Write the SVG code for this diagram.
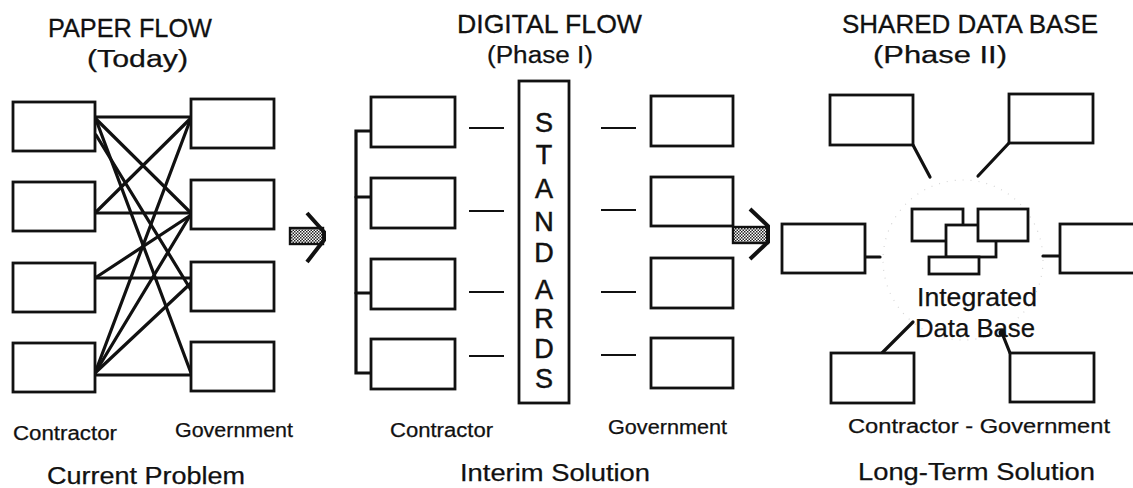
<svg xmlns="http://www.w3.org/2000/svg" width="1133" height="488" viewBox="0 0 1133 488">
<style>
  .box { fill: #fff; stroke: #111; stroke-width: 2.8; }
  .ln { stroke: #111; stroke-width: 3.2; fill: none; stroke-linecap: round; }
  .dash { stroke: #111; stroke-width: 2.2; fill: none; }
  .t { font-family: "Liberation Sans", Arial, sans-serif; fill: #111; stroke: #111; stroke-width: 0.25; }
  .title { font-size: 26px; stroke-width: 0.3; }
  .sub { font-size: 23px; }
  .lab { font-size: 20px; }
  .foot { font-size: 23px; }
  .std { font-size: 27px; text-anchor: middle; stroke-width: 0.5; }
  .chev { stroke: #111; stroke-width: 4; fill: none; stroke-linejoin: miter; }
</style>
<defs>
  <pattern id="hatch" width="3" height="3" patternUnits="userSpaceOnUse">
    <rect width="3" height="3" fill="#fff"/>
    <rect width="1.5" height="1.5" fill="#222"/>
    <rect x="1.5" y="1.5" width="1.5" height="1.5" fill="#222"/>
  </pattern>
</defs>
<rect width="1133" height="488" fill="#fff"/>

<!-- Titles and labels -->
<g id="texts">
  <text class="t title" x="48" y="37" textLength="164" lengthAdjust="spacingAndGlyphs">PAPER FLOW</text>
  <text class="t sub" x="87" y="67" textLength="101" lengthAdjust="spacingAndGlyphs">(Today)</text>
  <text class="t lab" x="13" y="440" textLength="104" lengthAdjust="spacingAndGlyphs">Contractor</text>
  <text class="t lab" x="175" y="437" textLength="118" lengthAdjust="spacingAndGlyphs">Government</text>
  <text class="t foot" x="47" y="484" textLength="198" lengthAdjust="spacingAndGlyphs">Current Problem</text>

  <text class="t title" x="457" y="33" textLength="185" lengthAdjust="spacingAndGlyphs">DIGITAL FLOW</text>
  <text class="t sub" x="487" y="63" textLength="106" lengthAdjust="spacingAndGlyphs">(Phase I)</text>
  <text class="t lab" x="390" y="437" textLength="103" lengthAdjust="spacingAndGlyphs">Contractor</text>
  <text class="t lab" x="608" y="434" textLength="119" lengthAdjust="spacingAndGlyphs">Government</text>
  <text class="t foot" x="460" y="481" textLength="190" lengthAdjust="spacingAndGlyphs">Interim Solution</text>

  <text class="t title" x="842" y="33" textLength="256" lengthAdjust="spacingAndGlyphs">SHARED DATA BASE</text>
  <text class="t sub" x="873" y="63" textLength="134" lengthAdjust="spacingAndGlyphs">(Phase II)</text>
  <text class="t lab" x="848" y="433" textLength="262" lengthAdjust="spacingAndGlyphs">Contractor  -  Government</text>
  <text class="t foot" x="858" y="480" textLength="237" lengthAdjust="spacingAndGlyphs">Long-Term Solution</text>
</g>

<!-- Connectors -->
<g id="connectors">
  <!-- panel 1 -->
  <line class="ln" x1="95" y1="117" x2="191" y2="117"/>
  <line class="ln" x1="95" y1="118" x2="191" y2="213"/>
  <line class="ln" x1="96" y1="135" x2="191" y2="290"/>
  <line class="ln" x1="95" y1="117" x2="191" y2="373"/>
  <line class="ln" x1="95" y1="213" x2="191" y2="118"/>
  <line class="ln" x1="95" y1="213" x2="191" y2="213"/>
  <line class="ln" x1="95" y1="278" x2="191" y2="215"/>
  <line class="ln" x1="95" y1="278" x2="191" y2="278"/>
  <line class="ln" x1="95" y1="373" x2="191" y2="118"/>
  <line class="ln" x1="95" y1="373" x2="191" y2="214"/>
  <line class="ln" x1="95" y1="373" x2="191" y2="283"/>
  <line class="ln" x1="95" y1="375" x2="191" y2="375"/>
  <!-- panel 2 bracket -->
  <polyline class="ln" points="371,131 356,131 356,373 371,373" stroke-linecap="butt"/>
  <line class="ln" x1="356" y1="197" x2="371" y2="197" stroke-linecap="butt"/>
  <line class="ln" x1="356" y1="293" x2="371" y2="293" stroke-linecap="butt"/>
  <!-- panel 2 dashes -->
  <line class="dash" x1="469" y1="128" x2="504" y2="128"/>
  <line class="dash" x1="469" y1="211" x2="504" y2="211"/>
  <line class="dash" x1="469" y1="292" x2="504" y2="292"/>
  <line class="dash" x1="469" y1="356" x2="504" y2="356"/>
  <line class="dash" x1="601" y1="128" x2="636" y2="128"/>
  <line class="dash" x1="601" y1="210" x2="636" y2="210"/>
  <line class="dash" x1="601" y1="292" x2="636" y2="292"/>
  <line class="dash" x1="601" y1="355" x2="636" y2="355"/>
  <!-- panel 3 -->
  <circle cx="963" cy="260" r="80" fill="none" stroke="#d6d6d6" stroke-width="1.2" stroke-dasharray="1 7"/>
  <line class="ln" x1="913" y1="145" x2="930" y2="177"/>
  <line class="ln" x1="1009" y1="143" x2="978" y2="176"/>
  <line class="ln" x1="865" y1="257" x2="880" y2="257" stroke-width="2.2"/>
  <line class="ln" x1="1043" y1="256" x2="1060" y2="256" stroke-width="2.2"/>
  <line class="ln" x1="882" y1="353" x2="913" y2="322"/>
  <line class="ln" x1="1010" y1="353" x2="1002" y2="333"/>
  <circle cx="1002" cy="333" r="3.4" fill="#111"/>
  <!-- transition arrows -->
  <rect x="290" y="228" width="33" height="16" fill="url(#hatch)" stroke="#111" stroke-width="2.4"/>
  <polyline class="chev" points="307,213 324,232 324,240 307,262"/>
  <rect x="733" y="227" width="35" height="16" fill="url(#hatch)" stroke="#111" stroke-width="2.4"/>
  <polyline class="chev" points="750,209 768,226 768,242 750,259"/>
</g>

<!-- Panel 1 nodes -->
<g id="p1-contractor-1"><rect class="box" x="13" y="102" width="82" height="49"/></g>
<g id="p1-contractor-2"><rect class="box" x="13" y="182" width="82" height="49"/></g>
<g id="p1-contractor-3"><rect class="box" x="13" y="263" width="82" height="49"/></g>
<g id="p1-contractor-4"><rect class="box" x="13" y="343" width="82" height="49"/></g>
<g id="p1-government-1"><rect class="box" x="191" y="99" width="83" height="49"/></g>
<g id="p1-government-2"><rect class="box" x="191" y="180" width="83" height="49"/></g>
<g id="p1-government-3"><rect class="box" x="191" y="262" width="83" height="49"/></g>
<g id="p1-government-4"><rect class="box" x="191" y="342" width="83" height="49"/></g>

<!-- Panel 2 nodes -->
<g id="p2-contractor-1"><rect class="box" x="371" y="97" width="84" height="50"/></g>
<g id="p2-contractor-2"><rect class="box" x="371" y="178" width="84" height="50"/></g>
<g id="p2-contractor-3"><rect class="box" x="371" y="259" width="84" height="50"/></g>
<g id="p2-contractor-4"><rect class="box" x="371" y="339" width="84" height="50"/></g>
<g id="p2-standards">
  <rect class="box" x="519" y="81" width="50" height="322"/>
  <text class="t std" x="544" y="132">S</text>
  <text class="t std" x="544" y="164">T</text>
  <text class="t std" x="544" y="198">A</text>
  <text class="t std" x="544" y="231">N</text>
  <text class="t std" x="544" y="262">D</text>
  <text class="t std" x="544" y="299">A</text>
  <text class="t std" x="544" y="328">R</text>
  <text class="t std" x="544" y="358">D</text>
  <text class="t std" x="544" y="388">S</text>
</g>
<g id="p2-government-1"><rect class="box" x="651" y="96" width="82" height="50"/></g>
<g id="p2-government-2"><rect class="box" x="651" y="177" width="82" height="49"/></g>
<g id="p2-government-3"><rect class="box" x="651" y="258" width="82" height="50"/></g>
<g id="p2-government-4"><rect class="box" x="651" y="338" width="82" height="50"/></g>

<!-- Panel 3 nodes -->
<g id="p3-box-top-left"><rect class="box" x="830" y="95" width="83" height="50"/></g>
<g id="p3-box-top-right"><rect class="box" x="1009" y="94" width="84" height="49"/></g>
<g id="p3-box-left"><rect class="box" x="782" y="224" width="83" height="49"/></g>
<g id="p3-box-right"><rect class="box" x="1060" y="224" width="80" height="49"/></g>
<g id="p3-box-bottom-left"><rect class="box" x="831" y="353" width="83" height="50"/></g>
<g id="p3-box-bottom-right"><rect class="box" x="1010" y="353" width="84" height="49"/></g>
<g id="p3-integrated-data-base">
  <rect class="box" x="912" y="209" width="51" height="32"/>
  <rect class="box" x="946" y="225" width="50" height="32"/>
  <rect class="box" x="978" y="209" width="50" height="32"/>
  <rect class="box" x="929" y="257" width="50" height="17"/>
  <text class="t" font-size="25" x="917" y="306" textLength="120" lengthAdjust="spacingAndGlyphs">Integrated</text>
  <text class="t" font-size="25" x="915" y="337" textLength="120" lengthAdjust="spacingAndGlyphs">Data Base</text>
</g>
</svg>
